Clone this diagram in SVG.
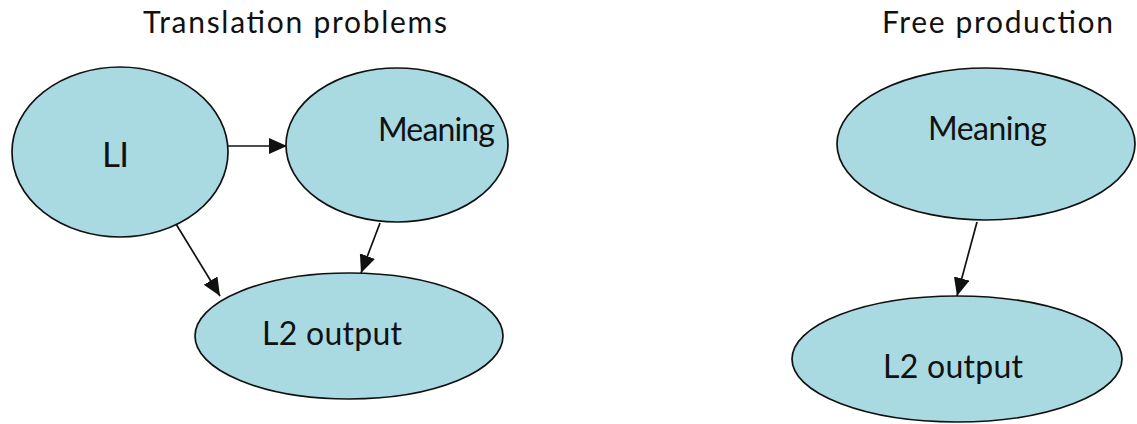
<svg xmlns="http://www.w3.org/2000/svg" width="1137" height="424" viewBox="0 0 1137 424">
<style>
.node{fill:#a9dae1;stroke:#111;stroke-width:1.7}
.lbl{font-family:Lato,"Open Sans",sans-serif;font-size:32px;fill:#111}
.title{font-family:Lato,"Open Sans",sans-serif;font-size:30px;fill:#111}
.edge{stroke:#111;stroke-width:1.7;fill:none;marker-end:url(#ah)}
</style>
<defs>
<marker id="ah" markerUnits="userSpaceOnUse" markerWidth="20" markerHeight="18" refX="18" refY="8" orient="auto">
<path d="M0,0 L18,8 L0,16 Z" fill="#111"/>
</marker>
</defs>
<rect width="1137" height="424" fill="#fff"/>
<text class="title" x="143" y="33" textLength="304">Translation problems</text>
<text class="title" x="882" y="33" textLength="231">Free production</text>
<g id="connectors">
<line class="edge" x1="220" y1="146" x2="287" y2="146"/>
<line class="edge" x1="176" y1="224" x2="220" y2="296"/>
<line class="edge" x1="380" y1="223" x2="361" y2="273"/>
<line class="edge" x1="977" y1="222" x2="957" y2="296"/>
</g>
<g id="n_l1">
<ellipse class="node" cx="120" cy="152" rx="108" ry="85"/>
<text class="lbl" x="102" y="167" textLength="27" style="font-size:35px">LI</text>
</g>
<g id="n_meaning1">
<ellipse class="node" cx="397" cy="145" rx="111" ry="77"/>
<text class="lbl" x="378" y="141" textLength="117">Meaning</text>
</g>
<g id="n_l2out1">
<ellipse class="node" cx="349" cy="336" rx="154" ry="63"/>
<text class="lbl" x="262" y="345" textLength="140">L2 output</text>
</g>
<g id="n_meaning2">
<ellipse class="node" cx="986" cy="144" rx="149" ry="76"/>
<text class="lbl" x="928" y="140" textLength="119">Meaning</text>
</g>
<g id="n_l2out2">
<ellipse class="node" cx="957" cy="359" rx="165" ry="63"/>
<text class="lbl" x="883" y="378" textLength="140">L2 output</text>
</g>
</svg>
